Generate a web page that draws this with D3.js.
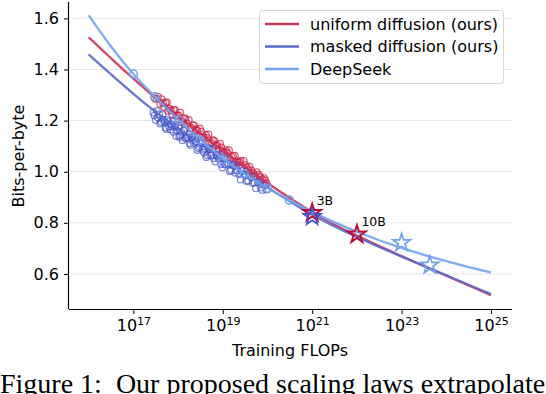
<!DOCTYPE html>
<html>
<head>
<meta charset="utf-8">
<script src="https://cdn.jsdelivr.net/npm/d3@7"></script>
<style>
  html, body { margin: 0; padding: 0; background: #fff; }
  svg { display: block; }
</style>
</head>
<body>
<svg id="chart" width="546" height="394"></svg>
<script>
// ---------- data (compute given as log10 of training FLOPs) ----------
const fitLogC = [16.0,16.5,17.0,17.5,18.0,18.5,19.0,19.5,20.0,20.5,21.0,21.5,22.0,22.5,23.0,23.5,24.0,24.5,25.0];
const uniformFit  = [1.526,1.444,1.364,1.288,1.216,1.148,1.082,1.018,0.956,0.897,0.842,0.793,0.750,0.709,0.670,0.631,0.593,0.555,0.517];
const maskedFit   = [1.459,1.381,1.305,1.234,1.169,1.108,1.050,0.993,0.938,0.884,0.832,0.786,0.745,0.706,0.668,0.631,0.595,0.558,0.521];
const deepseekFit = [1.613,1.490,1.382,1.290,1.205,1.126,1.052,0.990,0.936,0.887,0.843,0.802,0.765,0.732,0.702,0.675,0.650,0.627,0.606];

const uniformRunsLogC = [17.48,17.52,17.55,17.60,17.63,17.66,17.69,17.72,17.75,17.78,17.81,17.84,17.87,17.90,17.93,17.96,17.99,18.02,18.05,18.08,18.11,18.14,18.17,18.20,18.24,18.27,18.30,18.33,18.36,18.40,18.43,18.46,18.49,18.52,18.55,18.58,18.62,18.65,18.68,18.71,18.75,18.78,18.81,18.84,18.88,18.91,18.94,18.97,19.00,19.04,19.07,19.10,19.14,19.17,19.20,19.23,19.27,19.30,19.34,19.37,19.40,19.44,19.47,19.50,19.54,19.57,19.60,19.64,19.68,19.72,19.76,19.80,19.84,19.88,19.92,19.95,19.98];
const uniformRunsBpb  = [1.286,1.285,1.294,1.266,1.284,1.270,1.253,1.269,1.272,1.238,1.247,1.241,1.225,1.242,1.242,1.219,1.219,1.220,1.231,1.194,1.195,1.210,1.205,1.189,1.203,1.172,1.171,1.182,1.181,1.164,1.162,1.141,1.169,1.157,1.135,1.134,1.144,1.133,1.146,1.111,1.113,1.123,1.121,1.103,1.104,1.087,1.110,1.095,1.078,1.075,1.085,1.075,1.084,1.049,1.058,1.063,1.063,1.040,1.036,1.038,1.043,1.017,1.042,1.027,1.017,1.007,1.020,1.005,0.994,0.984,0.998,0.988,0.980,0.970,0.976,0.967,0.955];

const maskedRunsLogC = [17.45,17.47,17.50,17.53,17.55,17.58,17.60,17.62,17.65,17.67,17.70,17.72,17.74,17.76,17.78,17.80,17.83,17.85,17.88,17.90,17.92,17.94,17.96,17.98,18.01,18.03,18.05,18.07,18.10,18.12,18.14,18.16,18.19,18.21,18.24,18.26,18.28,18.30,18.33,18.35,18.38,18.40,18.43,18.45,18.48,18.50,18.53,18.55,18.58,18.60,18.63,18.65,18.68,18.70,18.73,18.75,18.78,18.80,18.83,18.86,18.88,18.91,18.94,18.96,18.99,19.02,19.04,19.07,19.10,19.13,19.16,19.19,19.22,19.25,19.28,19.31,19.34,19.37,19.40,19.43,19.47,19.50,19.53,19.57,19.60,19.64,19.67,19.71,19.74,19.78,19.81,19.85,19.88,19.92,19.95,19.98];
const maskedRunsBpb  = [1.232,1.220,1.202,1.238,1.212,1.224,1.189,1.195,1.224,1.203,1.194,1.173,1.167,1.204,1.197,1.178,1.165,1.185,1.197,1.156,1.175,1.183,1.140,1.160,1.174,1.136,1.143,1.156,1.123,1.161,1.164,1.131,1.132,1.135,1.144,1.111,1.105,1.135,1.124,1.113,1.135,1.119,1.085,1.092,1.098,1.114,1.115,1.086,1.075,1.091,1.057,1.064,1.095,1.089,1.063,1.068,1.088,1.053,1.040,1.068,1.060,1.052,1.067,1.030,1.017,1.053,1.029,1.028,1.049,1.032,1.002,1.006,1.027,1.026,0.996,1.005,1.021,0.990,0.970,1.003,0.992,0.985,0.964,0.965,0.990,0.978,0.956,0.957,0.935,0.958,0.965,0.938,0.929,0.948,0.948,0.930];

const deepseekPtsLogC = [17.00,17.48,18.02,18.49,18.99,19.48,20.00,20.49];
const deepseekPtsBpb  = [1.382,1.293,1.202,1.124,1.048,0.992,0.935,0.889];

const starUniformLogC = [21.0, 22.0];
const starUniformBpb  = [0.839, 0.755];
const starLabels      = ["3B", "10B"];
const starMaskedLogC  = [21.0];
const starMaskedBpb   = [0.824];
const starDeepseekLogC = [23.0, 23.63];
const starDeepseekBpb  = [0.722, 0.634];

const xTickExps = [17, 19, 21, 23, 25];
const yTicks = [0.6, 0.8, 1.0, 1.2, 1.4, 1.6];
const legendLabels = ["uniform diffusion (ours)", "masked diffusion (ours)", "DeepSeek"];

// ---------- styling ----------
const C_UNI = "#cc3456", C_MASK = "#5a68c9", C_DS = "#71a3ee";
const C_UNI_PT = "#c4143e", C_MASK_PT = "#3f52c6";
const FONT = "'DejaVu Sans', sans-serif";
const FS = "16px";

const svg = d3.select("#chart");
const mLeft = 69, mRight = 512, mTop = 2, mBottom = 309;
const x = d3.scaleLog().domain([Math.pow(10, 15.56), Math.pow(10, 25.47)]).range([mLeft, mRight]);
const y = d3.scaleLinear().domain([0.463, 1.664]).range([mBottom, mTop]);
const X = e => x(Math.pow(10, e));

// gridlines
svg.append("g").selectAll("line").data(yTicks).join("line")
  .attr("x1", mLeft).attr("x2", mRight)
  .attr("y1", d => y(d)).attr("y2", d => y(d))
  .attr("stroke", "#e6e6e6").attr("stroke-width", 1);

// axes
const xAxis = d3.axisBottom(x).tickValues(xTickExps.map(e => Math.pow(10, e))).tickSize(5).tickFormat("");
const gx = svg.append("g").attr("transform", `translate(0,${mBottom})`).call(xAxis);
gx.select(".domain").attr("d", `M${mLeft},0.5H${mRight}`).attr("stroke", "#000").attr("stroke-width", 1.2);
gx.selectAll(".tick line").attr("stroke", "#000").attr("stroke-width", 1);
gx.selectAll(".tick").each(function(d, i) {
  const t = d3.select(this).append("text")
    .attr("y", 22).attr("fill", "#000").attr("text-anchor", "middle")
    .style("font-family", FONT).style("font-size", FS);
  t.append("tspan").text("10");
  t.append("tspan").attr("dy", -6.5).style("font-size", "11px").text(String(xTickExps[i]));
});

const yAxis = d3.axisLeft(y).tickValues(yTicks).tickSize(5).tickFormat(d3.format(".1f"));
const gy = svg.append("g").attr("transform", `translate(${mLeft},0)`).call(yAxis);
gy.select(".domain").attr("d", `M-0.5,${mTop}V${mBottom}`).attr("stroke", "#000").attr("stroke-width", 1.2);
gy.selectAll(".tick line").attr("stroke", "#000");
gy.selectAll(".tick text").attr("x", -10).attr("fill", "#000")
  .style("font-family", FONT).style("font-size", FS);

// axis labels
svg.append("text").attr("x", 290).attr("y", 356).attr("text-anchor", "middle")
  .style("font-family", FONT).style("font-size", FS).text("Training FLOPs");
svg.append("text").attr("transform", "translate(24,156) rotate(-90)").attr("text-anchor", "middle")
  .style("font-family", FONT).style("font-size", FS).text("Bits-per-byte");

// scatter clouds
const plot = svg.append("g");
plot.append("g").selectAll("circle").data(d3.range(uniformRunsLogC.length)).join("circle")
  .attr("cx", i => X(uniformRunsLogC[i])).attr("cy", i => y(uniformRunsBpb[i])).attr("r", 3.3)
  .attr("fill", "none").attr("stroke", C_UNI_PT).attr("stroke-opacity", 0.65).attr("stroke-width", 1.3);
plot.append("g").selectAll("circle").data(d3.range(maskedRunsLogC.length)).join("circle")
  .attr("cx", i => X(maskedRunsLogC[i])).attr("cy", i => y(maskedRunsBpb[i])).attr("r", 3.3)
  .attr("fill", "none").attr("stroke", C_MASK_PT).attr("stroke-opacity", 0.65).attr("stroke-width", 1.3);

// fit lines
const line = d3.line().x(d => X(d[0])).y(d => y(d[1])).curve(d3.curveMonotoneX);
const series = [[uniformFit, C_UNI], [maskedFit, C_MASK], [deepseekFit, C_DS]];
series.forEach(([vals, col]) => {
  plot.append("path").datum(fitLogC.map((e, i) => [e, vals[i]]))
    .attr("d", line).attr("fill", "none").attr("stroke", col)
    .attr("stroke-width", 2.3).attr("stroke-opacity", 0.9);
});

// DeepSeek data points
plot.append("g").selectAll("circle").data(d3.range(deepseekPtsLogC.length)).join("circle")
  .attr("cx", i => X(deepseekPtsLogC[i])).attr("cy", i => y(deepseekPtsBpb[i])).attr("r", 4)
  .attr("fill", "none").attr("stroke", C_DS).attr("stroke-width", 1.5);

// stars
const star = d3.symbol().type(d3.symbolStar).size(95);
function stars(lc, vals, col, sw) {
  plot.append("g").selectAll("path").data(d3.range(lc.length)).join("path")
    .attr("d", star).attr("transform", i => `translate(${X(lc[i])},${y(vals[i])})`)
    .attr("fill", "none").attr("stroke", col).attr("stroke-width", sw);
}
stars(starDeepseekLogC, starDeepseekBpb, C_DS, 1.8);
stars(starUniformLogC, starUniformBpb, "#b80f3a", 2);
stars(starMaskedLogC, starMaskedBpb, C_MASK_PT, 1.6);

plot.append("g").selectAll("text").data(d3.range(starLabels.length)).join("text")
  .attr("x", i => X(starUniformLogC[i]) + 4.5).attr("y", i => y(starUniformBpb[i]) - 8)
  .style("font-family", FONT).style("font-size", "12.5px").text(i => starLabels[i]);

// legend
const lg = svg.append("g");
lg.append("rect").attr("x", 259.5).attr("y", 10.5).attr("width", 244).attr("height", 73).attr("rx", 3)
  .attr("fill", "#fff").attr("fill-opacity", 0.85).attr("stroke", "#d6d6d6").attr("stroke-width", 1);
const legCols = [C_UNI, C_MASK, C_DS];
legendLabels.forEach((lab, i) => {
  const yy = 24 + i * 22.5;
  lg.append("line").attr("x1", 265).attr("x2", 299).attr("y1", yy).attr("y2", yy)
    .attr("stroke", legCols[i]).attr("stroke-width", 2.3);
  lg.append("text").attr("x", 310).attr("y", yy + 5.6)
    .style("font-family", FONT).style("font-size", FS).text(lab);
});

// caption (cut off at bottom as in the reference)
svg.append("text").attr("x", 0).attr("y", 393)
  .style("font-family", "'Liberation Serif', 'Times New Roman', serif").style("font-size", "28px")
  .attr("xml:space", "preserve").text("Figure 1:  Our proposed scaling laws extrapolate");
</script>
</body>
</html>
